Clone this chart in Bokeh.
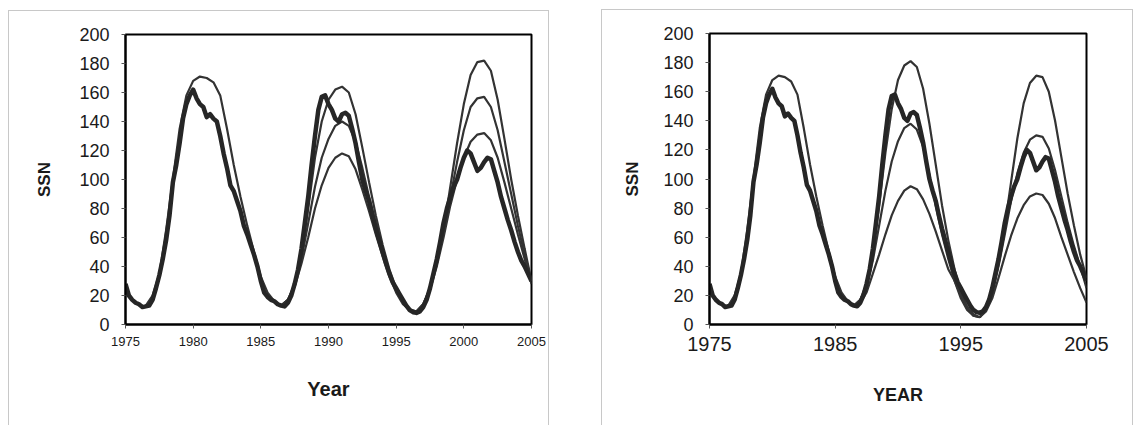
from bokeh.plotting import figure
from bokeh.layouts import row
from bokeh.models import Range1d, FixedTicker
from bokeh.embed import file_html
from bokeh.resources import INLINE

# ---------------- data ----------------
obs_years = [1975 + 0.25 * i for i in range(121)]
obs_ssn = [28, 20, 17, 15, 14, 12, 12.5, 13, 17, 25, 34, 45, 58, 75, 98, 110,
           125, 142, 152, 158, 162, 156, 152, 150, 143, 145, 142, 140, 130, 118, 108, 96,
           92, 85, 78, 68, 62, 55, 48, 40, 30, 22, 19, 17, 16, 14, 13, 12.5,
           15, 20, 28, 38, 52, 70, 88, 110, 130, 148, 157, 158, 152, 148, 142, 140,
           145, 146, 144, 135, 125, 112, 100, 92, 85, 75, 66, 58, 50, 42, 35, 29,
           25, 21, 17, 13, 10, 8.5, 8, 9, 12, 17, 25, 35, 45, 57, 70, 80,
           88, 95, 100, 108, 115, 120, 118, 112, 106, 108, 112, 115, 114, 106, 98, 88,
           80, 72, 65, 57, 50, 44, 40, 35, 30]

c21_years = [1976.5 + 0.5 * i for i in range(21)]
c21_model = [13, 20, 35, 65, 100, 135, 158, 168, 171, 170, 167, 158, 135, 110, 88, 68, 50, 33, 22, 16, 13]

c22_years = [1986.5 + 0.5 * i for i in range(21)]
left22_a = [13, 17, 28, 48, 80, 115, 140, 155, 162, 164, 160, 145, 122, 98, 75, 55, 38, 25, 16, 10, 9]
left22_b = [13, 17, 27, 45, 70, 95, 115, 128, 137, 140, 137, 126, 108, 88, 70, 52, 36, 24, 15, 10, 9]
left22_c = [13, 17, 26, 42, 60, 80, 96, 108, 115, 118, 116, 107, 93, 78, 62, 47, 33, 22, 14, 10, 9]

right22_a = [13, 17, 28, 50, 82, 118, 148, 168, 178, 181, 177, 162, 138, 110, 82, 58, 38, 22, 12, 6, 5]
right22_b = [13, 17, 26, 44, 68, 92, 112, 126, 135, 138, 134, 122, 103, 82, 62, 45, 30, 18, 10, 6, 5]
right22_c = [13, 15, 22, 35, 48, 62, 75, 85, 92, 95, 93, 86, 76, 64, 51, 38, 30, 20, 12, 7, 5]

c23_years = [1996.5 + 0.5 * i for i in range(18)]
left23_a = [9, 14, 25, 42, 65, 95, 125, 152, 172, 181, 182, 175, 155, 128, 100, 75, 52, 30]
left23_b = [9, 14, 25, 42, 63, 88, 112, 134, 150, 156, 157, 150, 134, 112, 90, 68, 48, 30]
left23_c = [9, 14, 24, 40, 60, 82, 100, 115, 126, 131, 132, 127, 115, 98, 80, 62, 45, 28]

right23_a = [5, 10, 22, 42, 68, 98, 128, 152, 166, 171, 170, 160, 140, 115, 90, 68, 48, 32]
right23_b = [5, 10, 21, 40, 62, 85, 104, 118, 127, 130, 129, 121, 106, 88, 70, 54, 40, 25]
right23_c = [5, 9, 18, 32, 47, 61, 73, 82, 88, 90, 89, 83, 73, 60, 48, 36, 25, 15]

y_ticks = [0, 20, 40, 60, 80, 100, 120, 140, 160, 180, 200]
left_x_ticks = [1975, 1980, 1985, 1990, 1995, 2000, 2005]
right_x_ticks = [1975, 1985, 1995, 2005]

FONT = "Liberation Sans"
THICK = "#262626"
THIN = "#333333"
FRAME = "1.5px solid #c8c8c8"


def make_panel(width, height, margin, left, right, top, bottom, xticks, xlabel,
               xtick_size, xlabel_size, c22, c23, x_lab_standoff, y_lab_standoff):
    p = figure(width=width, height=height, output_backend="svg", toolbar_location=None,
               x_range=Range1d(1975, 2005), y_range=Range1d(0, 200),
               min_border_left=left, min_border_right=right,
               min_border_top=top, min_border_bottom=bottom)
    p.margin = margin
    p.styles = {"border-left": FRAME, "border-top": FRAME, "border-right": FRAME}
    p.grid.visible = False
    p.outline_line_color = "black"
    p.outline_line_width = 2
    p.background_fill_color = "white"
    p.border_fill_color = "white"

    for ax in (p.xaxis[0], p.yaxis[0]):
        ax.axis_line_color = "black"
        ax.axis_line_width = 2
        ax.major_tick_line_color = "#555555"
        ax.major_tick_out = 4
        ax.major_tick_in = 0
        ax.minor_tick_line_color = None
        ax.major_label_text_font = FONT
        ax.major_label_text_color = "#1a1a1a"
        ax.axis_label_text_font = FONT
        ax.axis_label_text_font_style = "bold"
        ax.axis_label_text_color = "#1a1a1a"

    p.xaxis.ticker = FixedTicker(ticks=xticks)
    p.xaxis.major_label_text_font_size = xtick_size
    p.xaxis.major_label_standoff = 8
    p.xaxis.axis_label = xlabel
    p.xaxis.axis_label_text_font_size = xlabel_size
    p.xaxis.axis_label_standoff = x_lab_standoff

    p.yaxis.ticker = FixedTicker(ticks=y_ticks)
    p.yaxis.major_label_text_font_size = "18px"
    p.yaxis.major_label_standoff = 12
    p.yaxis.axis_label = "SSN"
    p.yaxis.axis_label_text_font_size = "17px"
    p.yaxis.axis_label_standoff = y_lab_standoff

    # model curves (thin)
    p.line(c21_years, c21_model, line_color=THIN, line_width=2.2)
    for ys in c22:
        p.line(c22_years, ys, line_color=THIN, line_width=2.2)
    for ys in c23:
        p.line(c23_years, ys, line_color=THIN, line_width=2.2)
    # observed (thick)
    p.line(obs_years, obs_ssn, line_color=THICK, line_width=4.5, line_join="round")
    return p


p1 = make_panel(541, 415, (10, 20, 0, 8), 116, 19, 23, 90, left_x_ticks, "Year",
                "13px", "20px", [left22_a, left22_b, left22_c],
                [left23_a, left23_b, left23_c], 29, 22)
p2 = make_panel(532, 416, (9, 5, 0, 32), 107, 48, 20, 102, right_x_ticks, "YEAR",
                "20px", "18px", [right22_a, right22_b, right22_c],
                [right23_a, right23_b, right23_c], 31, 18)

layout = row(p1, p2, spacing=0)
open("out.html", "w").write(file_html(layout, INLINE))
